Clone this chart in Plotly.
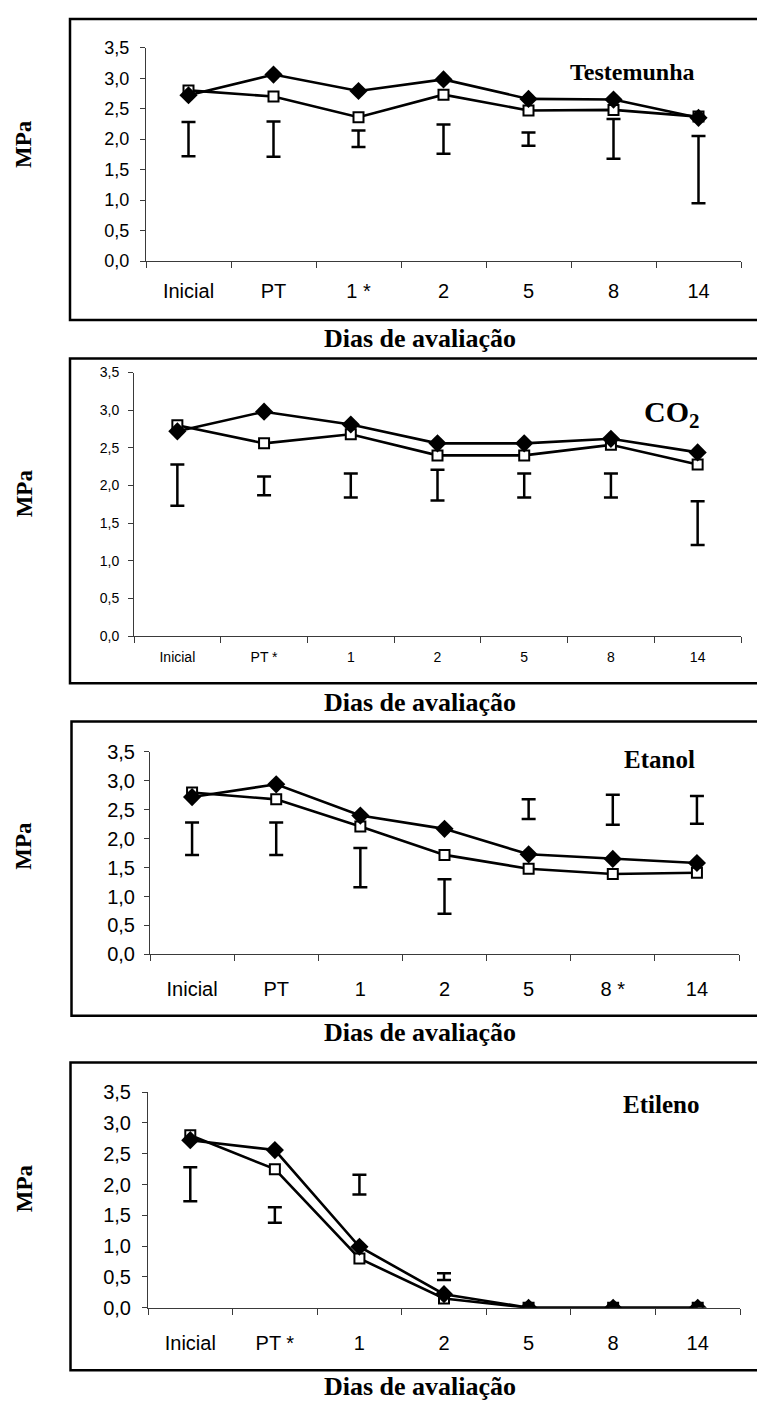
import plotly.graph_objects as go

W, H = 757, 1409

# ---------------- data ----------------
cats_testemunha = ["Inicial", "PT", "1 *", "2", "5", "8", "14"]
testemunha_diamond = [2.72, 3.06, 2.79, 2.98, 2.66, 2.65, 2.35]
testemunha_square = [2.80, 2.70, 2.36, 2.73, 2.47, 2.48, 2.37]
testemunha_bar_low = [1.72, 1.71, 1.87, 1.76, 1.89, 1.68, 0.95]
testemunha_bar_high = [2.28, 2.29, 2.14, 2.24, 2.11, 2.33, 2.05]

cats_co2 = ["Inicial", "PT *", "1", "2", "5", "8", "14"]
co2_diamond = [2.72, 2.98, 2.81, 2.56, 2.56, 2.62, 2.44]
co2_square = [2.80, 2.56, 2.68, 2.40, 2.40, 2.54, 2.28]
co2_bar_low = [1.73, 1.87, 1.84, 1.80, 1.84, 1.84, 1.21]
co2_bar_high = [2.28, 2.12, 2.16, 2.21, 2.16, 2.16, 1.79]

cats_etanol = ["Inicial", "PT", "1", "2", "5", "8 *", "14"]
etanol_diamond = [2.72, 2.94, 2.40, 2.17, 1.73, 1.65, 1.58]
etanol_square = [2.80, 2.68, 2.21, 1.72, 1.48, 1.39, 1.41]
etanol_bar_low = [1.72, 1.72, 1.16, 0.70, 2.34, 2.24, 2.26]
etanol_bar_high = [2.28, 2.28, 1.84, 1.30, 2.68, 2.76, 2.74]

cats_etileno = ["Inicial", "PT *", "1", "2", "5", "8", "14"]
etileno_diamond = [2.72, 2.56, 0.99, 0.22, 0.0, 0.0, 0.0]
etileno_square = [2.80, 2.25, 0.80, 0.15, 0.0, 0.0, 0.0]
etileno_bar_low = [1.73, 1.38, 1.84, 0.45, None, None, None]
etileno_bar_high = [2.28, 1.63, 2.16, 0.56, None, None, None]

y_title = "MPa"
x_title = "Dias de avaliação"

# ---------------- layout geometry (pixels) ----------------
panels = [
    dict(cats=cats_testemunha, dia=testemunha_diamond, sq=testemunha_square,
         lo=testemunha_bar_low, hi=testemunha_bar_high, title="<b>Testemunha</b>",
         px=(146, 741), py=(254, 37.3), box=(70, 8, 314), tfs=20, yfs=18,
         xstand=12, ystand=7, title_xy=(632, 62), title_fs=24, mpa_y=135, xlab_y=333),
    dict(cats=cats_co2, dia=co2_diamond, sq=co2_square,
         lo=co2_bar_low, hi=co2_bar_high, title="<b>CO<sub>2</sub></b>",
         px=(134, 741), py=(635, 367.3), box=(70, 353, 683), tfs=14, yfs=14,
         xstand=8, ystand=6, title_xy=(672, 409), title_fs=30, mpa_y=490, xlab_y=702),
    dict(cats=cats_etanol, dia=etanol_diamond, sq=etanol_square,
         lo=etanol_bar_low, hi=etanol_bar_high, title="<b>Etanol</b>",
         px=(150, 739), py=(958.3, 752.7), box=(71.5, 721.7, 1020.7), tfs=20, yfs=20,
         xstand=17, ystand=5, title_xy=(659, 760), title_fs=25, mpa_y=848, xlab_y=1038),
    dict(cats=cats_etileno, dia=etileno_diamond, sq=etileno_square,
         lo=etileno_bar_low, hi=etileno_bar_high, title="<b>Etileno</b>",
         px=(148, 740), py=(1317.3, 1098.3), box=(70.5, 1068.3, 1380.7), tfs=20, yfs=20,
         xstand=17, ystand=7, title_xy=(661, 1111), title_fs=25, mpa_y=1196, xlab_y=1397),
]

TICKFONT = "Liberation Sans Narrow, Arial Narrow, Liberation Sans, Arial, sans-serif"
SERIF = "Liberation Serif, Times New Roman, serif"
AXIS_COLOR = "#3a3a3a"

fig = go.Figure()
annotations = []
shapes = []

for i, p in enumerate(panels, start=1):
    xa = "x" if i == 1 else f"x{i}"
    ya = "y" if i == 1 else f"y{i}"
    xk = "xaxis" if i == 1 else f"xaxis{i}"
    yk = "yaxis" if i == 1 else f"yaxis{i}"

    # floating bars (error bars)
    bx, bc, bh = [], [], []
    for c, lo, hi in zip(p["cats"], p["lo"], p["hi"]):
        if lo is None or hi is None:
            continue
        bx.append(c)
        bc.append((lo + hi) / 2)
        bh.append((hi - lo) / 2)
    fig.add_trace(go.Scatter(
        x=bx, y=bc, mode="markers", xaxis=xa, yaxis=ya, showlegend=False,
        marker=dict(size=1, color="rgba(0,0,0,0)"),
        error_y=dict(type="data", array=bh, symmetric=True, color="black",
                     thickness=2.5, width=7),
        hoverinfo="skip"))

    # open square series
    fig.add_trace(go.Scatter(
        x=p["cats"], y=p["sq"], mode="lines+markers", xaxis=xa, yaxis=ya,
        showlegend=False,
        line=dict(color="black", width=2.6),
        marker=dict(symbol="square", size=10, color="white",
                    line=dict(color="black", width=2))))
    # filled diamond series
    fig.add_trace(go.Scatter(
        x=p["cats"], y=p["dia"], mode="lines+markers", xaxis=xa, yaxis=ya,
        showlegend=False,
        line=dict(color="black", width=2.6),
        marker=dict(symbol="diamond", size=14, color="black",
                    line=dict(color="black", width=0))))

    x0, x1 = p["px"]
    yb, yt = p["py"]
    fig.layout[xk] = dict(
        domain=[x0 / W, x1 / W], anchor=ya,
        type="category", categoryorder="array", categoryarray=p["cats"],
        range=[-0.5, 6.5], tickson="boundaries", ticks="outside", ticklen=6,
        tickcolor=AXIS_COLOR, tickwidth=1, showline=True, linecolor=AXIS_COLOR,
        linewidth=1, showgrid=False, zeroline=False,
        tickfont=dict(family=TICKFONT, size=p["tfs"], color="black"),
        ticklabelstandoff=p["xstand"], fixedrange=True)
    fig.layout[yk] = dict(
        domain=[1 - yb / H, 1 - yt / H], anchor=xa,
        range=[0, 3.5], dtick=0.5, tick0=0, tickformat=".1f",
        ticks="outside", ticklen=5, tickcolor=AXIS_COLOR, tickwidth=1,
        showline=True, linecolor=AXIS_COLOR, linewidth=1,
        showgrid=False, zeroline=False,
        tickfont=dict(family=TICKFONT, size=p["yfs"], color="black"),
        ticklabelstandoff=p["ystand"], fixedrange=True)

    bx0, by0, by1 = p["box"]
    shapes.append(dict(type="rect", xref="paper", yref="paper",
                       x0=bx0 / W, x1=(W + 10) / W,
                       y0=1 - by1 / H, y1=1 - by0 / H,
                       line=dict(color="black", width=2.5),
                       fillcolor="rgba(0,0,0,0)", layer="below"))

    tx, ty = p["title_xy"]
    annotations.append(dict(text=p["title"], xref="paper", yref="paper",
                            x=tx / W, y=1 - ty / H, xanchor="center", yanchor="middle",
                            showarrow=False,
                            font=dict(family=SERIF, size=p["title_fs"], color="black")))
    annotations.append(dict(text=f"<b>{y_title}</b>", xref="paper", yref="paper",
                            x=24 / W, y=1 - p["mpa_y"] / H, xanchor="center",
                            yanchor="middle", textangle=-90, showarrow=False,
                            font=dict(family=SERIF, size=23, color="black")))
    annotations.append(dict(text=f"<b>{x_title}</b>", xref="paper", yref="paper",
                            x=420 / W, y=1 - p["xlab_y"] / H, xanchor="center",
                            yanchor="middle", showarrow=False,
                            font=dict(family=SERIF, size=26, color="black")))

fig.update_layout(
    width=W, height=H, margin=dict(l=0, r=0, t=0, b=0),
    paper_bgcolor="white", plot_bgcolor="rgba(0,0,0,0)",
    separators=",.", showlegend=False, hovermode=False,
    annotations=annotations, shapes=shapes,
)

fig.write_html(
    "out.html",
    config={"displayModeBar": False, "staticPlot": True},
    post_script="document.body.style.margin='0px';document.body.style.overflow='hidden';",
)
